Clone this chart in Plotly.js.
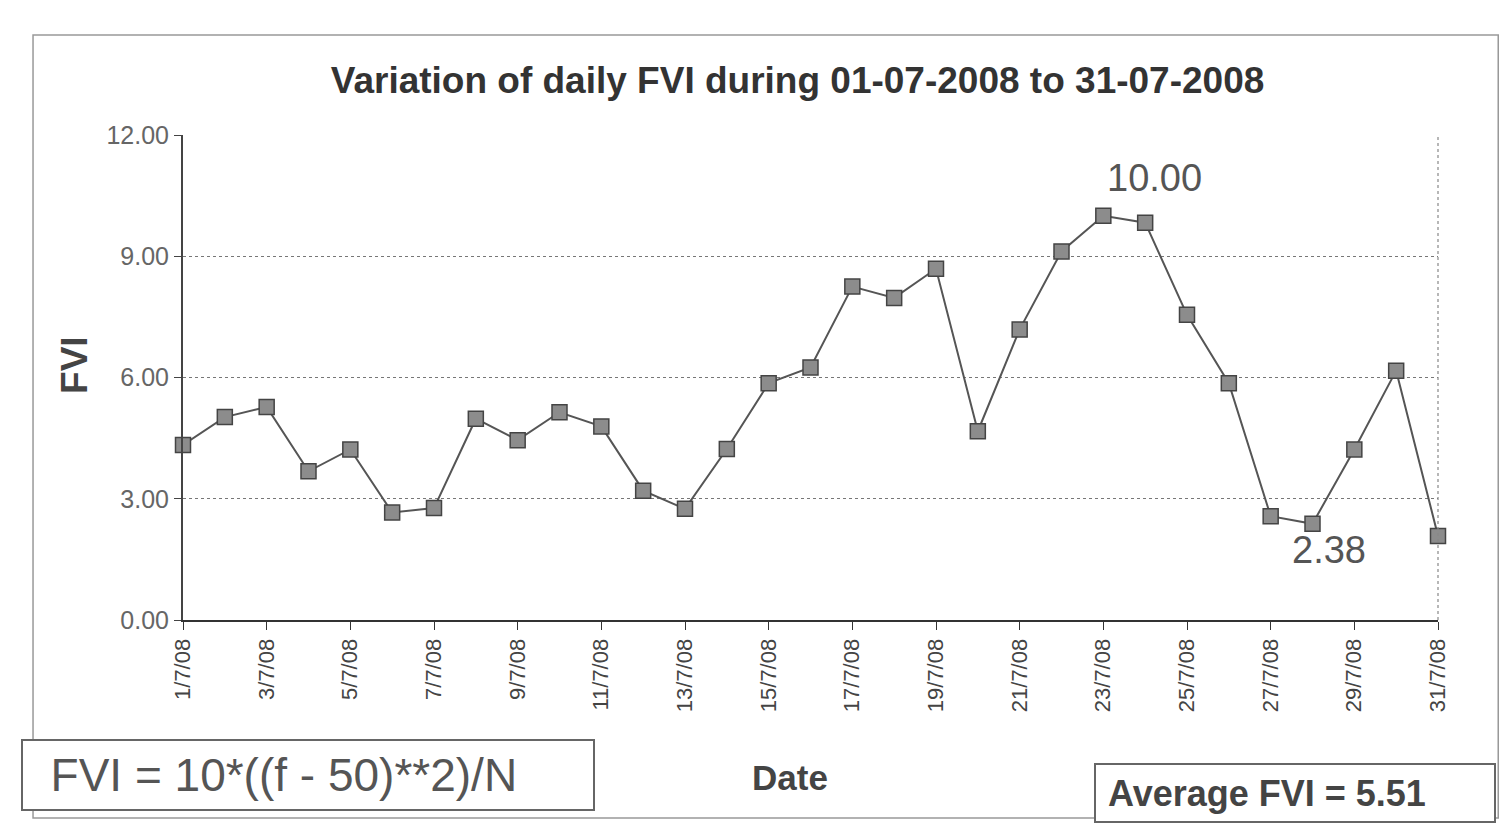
<!DOCTYPE html>
<html>
<head>
<meta charset="utf-8">
<script src="https://cdn.plot.ly/plotly-3.0.1.min.js"></script>
<style>html,body{margin:0;padding:0;background:#fff;}#chart{width:1502px;height:827px;}</style>
</head>
<body>
<div id="chart"></div>
<script>
const dates = ["1/7/08","2/7/08","3/7/08","4/7/08","5/7/08","6/7/08","7/7/08","8/7/08","9/7/08","10/7/08",
  "11/7/08","12/7/08","13/7/08","14/7/08","15/7/08","16/7/08","17/7/08","18/7/08","19/7/08","20/7/08",
  "21/7/08","22/7/08","23/7/08","24/7/08","25/7/08","26/7/08","27/7/08","28/7/08","29/7/08","30/7/08","31/7/08"];
const fvi = [4.33,5.02,5.27,3.68,4.22,2.66,2.77,4.98,4.45,5.14,
  4.79,3.20,2.75,4.23,5.86,6.25,8.25,7.97,8.69,4.67,
  7.19,9.12,10.00,9.83,7.55,5.86,2.57,2.38,4.22,6.17,2.08];
const tickDates = ["1/7/08","3/7/08","5/7/08","7/7/08","9/7/08","11/7/08","13/7/08","15/7/08",
  "17/7/08","19/7/08","21/7/08","23/7/08","25/7/08","27/7/08","29/7/08","31/7/08"];
const yTicks = [0,3,6,9,12];
const titleText = "Variation of daily FVI during 01-07-2008 to 31-07-2008";
const formulaText = "FVI = 10*((f - 50)**2)/N";
const averageText = "Average FVI = 5.51";
const maxLabel = {date: "23/7/08", value: 10.00, text: "10.00"};
const minLabel = {date: "28/7/08", value: 2.38, text: "2.38"};

const font = "Liberation Sans, Arial, sans-serif";

const trace = {
  x: dates, y: fvi, type: 'scatter', mode: 'lines+markers',
  line: {color: '#555', width: 2},
  marker: {symbol: 'square', size: 15, color: '#8c8c8c', line: {color: '#444', width: 1.5}},
  cliponaxis: false, hoverinfo: 'x+y'
};

const layout = {
  width: 1502, height: 827,
  margin: {l: 183, r: 64, t: 135, b: 207},
  paper_bgcolor: '#fff', plot_bgcolor: '#fff',
  showlegend: false,
  font: {family: font, color: '#444'},
  title: {text: titleText, font: {family: font, size: 37, color: '#333', weight: 'bold'},
    x: 0.531, xref: 'container', xanchor: 'center', y: 0.903, yref: 'container', yanchor: 'middle'},
  xaxis: {
    type: 'category', range: [0, 30],
    tickmode: 'array', tickvals: tickDates, ticktext: tickDates,
    tickangle: -90, tickfont: {family: font, size: 22, color: '#444'},
    ticks: 'outside', ticklen: 8, tickcolor: '#333',
    showline: true, linecolor: '#333', linewidth: 2, showgrid: false, zeroline: false
  },
  yaxis: {
    range: [0, 12], tickmode: 'array', tickvals: yTicks, tickformat: '.2f',
    tickfont: {family: font, size: 25, color: '#666'},
    ticks: 'outside', ticklen: 7, tickcolor: '#444',
    showline: true, linecolor: '#444', linewidth: 2,
    showgrid: true, gridcolor: '#777', griddash: 'dot', gridwidth: 1.2, zeroline: false
  },
  shapes: [
    {type: 'line', xref: 'paper', yref: 'paper', x0: 1, x1: 1, y0: 0, y1: 1,
     line: {color: '#888', width: 1.2, dash: 'dot'}},
    {type: 'rect', xref: 'paper', yref: 'paper', x0: -0.1195, x1: 1.048, y0: -0.408, y1: 1.206,
     line: {color: '#999', width: 1.5}}
  ],
  annotations: [
    {text: '<b>FVI</b>', xref: 'paper', yref: 'paper', x: -0.086, y: 0.526, textangle: -90,
     xanchor: 'center', yanchor: 'middle',
     showarrow: false, font: {family: font, size: 37, color: '#444'}},
    {text: '<b>Date</b>', xref: 'paper', yref: 'paper', x: 0.4837, y: -0.324,
     xanchor: 'center', yanchor: 'middle',
     showarrow: false, font: {family: font, size: 35, color: '#444'}},
    {text: '&nbsp;&nbsp;' + formulaText, xref: 'paper', yref: 'paper', x: 0.0996, y: -0.3196,
     xanchor: 'center', yanchor: 'middle',
     showarrow: false, font: {family: font, size: 46, color: '#555'},
     bordercolor: '#666', borderwidth: 2, borderpad: 2, width: 566, height: 64, align: 'left', bgcolor: '#fff'},
    {text: '<b>&nbsp;' + averageText + '</b>', xref: 'paper', yref: 'paper', x: 0.886, y: -0.357,
     xanchor: 'center', yanchor: 'middle',
     showarrow: false, font: {family: font, size: 36, color: '#444'},
     bordercolor: '#666', borderwidth: 2, borderpad: 2, width: 394, height: 52, align: 'left', bgcolor: '#fff'},
    {text: maxLabel.text, x: maxLabel.date, y: maxLabel.value, xref: 'x', yref: 'y',
     showarrow: false, xshift: 51, yshift: 38, font: {family: font, size: 38, color: '#555'}},
    {text: minLabel.text, x: minLabel.date, y: minLabel.value, xref: 'x', yref: 'y',
     showarrow: false, xshift: 16, yshift: -26, font: {family: font, size: 38, color: '#555'}}
  ]
};

Plotly.newPlot('chart', [trace], layout, {displayModeBar: false, staticPlot: true});
</script>
</body>
</html>
